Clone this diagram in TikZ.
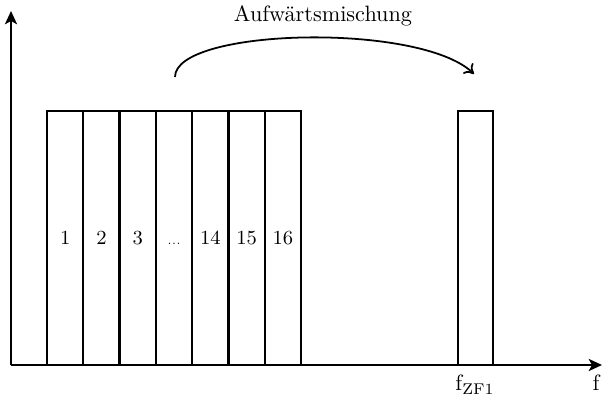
\documentclass[tikz,border=0pt]{standalone}
\usetikzlibrary{arrows.meta}
\begin{document}
\begin{tikzpicture}[x=0.45pt,y=-0.45pt,
  axis/.style={thick,-{Stealth[length=6pt,width=5.5pt,inset=1.5pt]}},
  chan/.style={draw,line width=1pt,outer sep=0pt,minimum width=36.3*0.45pt,minimum height=254*0.45pt,inner sep=0pt,anchor=south west,font=\small},
  lbl/.style={inner sep=0pt}]
  \useasboundingbox (0,0) rectangle (602,404);
  % axes
  \coordinate (o) at (11,365);
  \coordinate (ytop) at (11,11);
  \coordinate (xend) at (602,365);
  % channel boxes
  \node[chan] (c1)  at (47,365) {1};
  \node[chan] (c2)  at (c1.south east) {2};
  \node[chan] (c3)  at (c2.south east) {3};
  \node[chan] (c4)  at (c3.south east) {\vphantom{1}{\tiny ...}};
  \node[chan] (c5)  at (c4.south east) {14};
  \node[chan] (c6)  at (c5.south east) {15};
  \node[chan] (c7)  at (c6.south east) {16};
  \node[chan,minimum width=35*0.45pt] (zf) at (458,365) {};
  \draw[axis] (o) -- (ytop);
  \draw[axis] (o) -- (xend);
  % axis labels
  \node[lbl,anchor=base] (fzf) at (475,391) {f$_{\mathrm{ZF1}}$};
  \node[lbl,anchor=base] (f) at (596,391) {f};
  % up-conversion arrow
  \coordinate (s) at (175,77);
  \coordinate (e) at (474,74);
  \draw[thick,-{To[length=4pt,width=6.5pt]}] (s) .. controls (175,28) and (420,22) .. (e);
  \node[lbl,anchor=base] (up) at (323,22) {Aufwärtsmischung};
\end{tikzpicture}
\end{document}
